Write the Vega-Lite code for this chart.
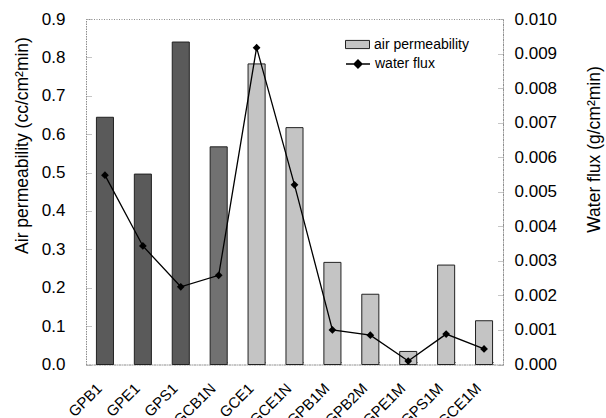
{
  "$schema": "https://vega.github.io/schema/vega-lite/v6.json",
  "width": 417,
  "height": 345.5,
  "autosize": {"type": "none"},
  "padding": {"left": 86, "top": 19, "right": 103, "bottom": 53.5},
  "background": "white",
  "config": {
    "font": "Liberation Sans",
    "view": {"stroke": "#8c8c8c", "strokeDash": [1, 1.5], "strokeWidth": 1},
    "axis": {
      "labelFont": "Liberation Sans",
      "titleFont": "Liberation Sans",
      "labelColor": "#000",
      "titleColor": "#000",
      "titleFontWeight": "normal",
      "grid": false,
      "domainColor": "#8c8c8c",
      "domainDash": [1, 1.5],
      "tickColor": "#8c8c8c",
      "tickDash": [1, 1]
    },
    "legend": {"labelFont": "Liberation Sans", "labelColor": "#000"}
  },
  "data": {
    "values": [
      {"sample": "GPB1", "air": 0.644, "flux": 0.00548},
      {"sample": "GPE1", "air": 0.496, "flux": 0.00343},
      {"sample": "GPS1", "air": 0.84, "flux": 0.00225},
      {"sample": "GCB1N", "air": 0.567, "flux": 0.00258},
      {"sample": "GCE1", "air": 0.783, "flux": 0.00917},
      {"sample": "GCE1N", "air": 0.617, "flux": 0.0052},
      {"sample": "GPB1M", "air": 0.266, "flux": 0.001},
      {"sample": "GPB2M", "air": 0.183, "flux": 0.00085},
      {"sample": "GPE1M", "air": 0.034, "flux": 0.0001},
      {"sample": "GPS1M", "air": 0.259, "flux": 0.00088},
      {"sample": "GCE1M", "air": 0.114, "flux": 0.00045}
    ]
  },
  "encoding": {
    "x": {
      "field": "sample",
      "type": "nominal",
      "sort": null,
      "scale": {"paddingInner": 0.55, "paddingOuter": 0.275},
      "axis": {
        "title": null,
        "labelAngle": -45,
        "labelFontSize": 15,
        "labelPadding": 20,
        "labelOffset": -11,
        "tickSize": -4,
        "tickBand": "extent"
      }
    }
  },
  "layer": [
    {
      "mark": {"type": "bar", "stroke": "#222", "strokeWidth": 1},
      "encoding": {
        "y": {
          "field": "air",
          "type": "quantitative",
          "scale": {"domain": [0, 0.9], "nice": false},
          "axis": {
            "orient": "left",
            "title": "Air permeability (cc/cm²min)",
            "values": [0, 0.1, 0.2, 0.3, 0.4, 0.5, 0.6, 0.7, 0.8, 0.9],
            "format": ".1f",
            "labelFontSize": 17,
            "titleFontSize": 17.5,
            "titleY": 126,
            "tickSize": -5,
            "labelPadding": 26,
            "titlePadding": 10
          }
        },
        "fill": {
          "condition": [
            {"test": "indexof(['GPB1','GPE1','GPS1'], datum.sample) >= 0", "value": "#5a5a5a"},
            {"test": "datum.sample === 'GCB1N'", "value": "#717171"}
          ],
          "datum": "air permeability",
          "type": "nominal",
          "scale": {"range": ["#c4c4c4"]},
          "legend": {
            "orient": "none",
            "legendX": 259,
            "legendY": 13,
            "title": null,
            "symbolType": "M-1,-0.34H1V0.34H-1Z",
            "symbolSize": 576,
            "symbolFillColor": "#7a7a7a",
            "symbolStrokeColor": "#222",
            "symbolStrokeWidth": 1,
            "labelFontSize": 14,
            "labelOffset": 4
          }
        }
      }
    },
    {
      "encoding": {
        "y": {
          "field": "flux",
          "type": "quantitative",
          "scale": {"domain": [0, 0.01], "nice": false},
          "axis": {
            "orient": "right",
            "title": "Water flux (g/cm²min)",
            "values": [0, 0.001, 0.002, 0.003, 0.004, 0.005, 0.006, 0.007, 0.008, 0.009, 0.01],
            "format": ".3f",
            "labelFontSize": 17,
            "titleFontSize": 17.5,
            "titleAngle": 270,
            "titleY": 130,
            "tickSize": -5,
            "labelPadding": 16,
            "titlePadding": 47
          }
        },
        "stroke": {
          "datum": "water flux",
          "type": "nominal",
          "scale": {"range": ["#000"]},
          "legend": {
            "orient": "none",
            "legendX": 259,
            "legendY": 32,
            "title": null,
            "symbolType": "M-1,0H1M0,-0.34L0.34,0L0,0.34L-0.34,0Z",
            "symbolSize": 576,
            "symbolFillColor": "#000",
            "symbolStrokeColor": "#000",
            "symbolStrokeWidth": 1.3,
            "labelFontSize": 14,
            "labelOffset": 4
          }
        }
      },
      "layer": [
        {"mark": {"type": "line", "strokeWidth": 1.3}},
        {"mark": {"type": "point", "shape": "diamond", "filled": true, "size": 60, "opacity": 1, "fill": "#000", "strokeWidth": 0}}
      ]
    }
  ],
  "resolve": {"scale": {"y": "independent", "fill": "independent", "stroke": "independent"}}
}
